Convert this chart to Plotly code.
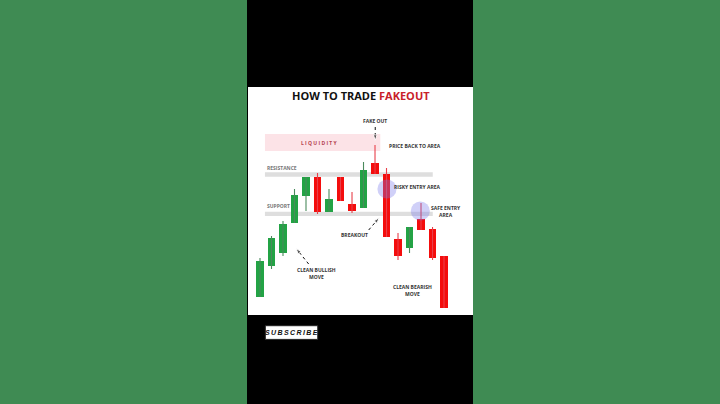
import plotly.graph_objects as go

# ---- data (price units) ----
idx = list(range(17))
opens  = [18, 49, 62, 92, 119, 138, 103, 138, 111, 107, 152, 141, 76, 67, 96, 86, 59]
closes = [54, 77, 91, 120, 138, 103, 116, 114, 104, 145, 141, 78, 59, 88, 85, 57, 7]
highs  = [57, 79, 94, 126, 138, 142, 126, 138, 123, 153, 170, 147, 82, 88, 112, 88, 59]
lows   = [18, 46, 59, 92, 104, 101, 103, 114, 102, 107, 141, 78, 55, 62, 85, 55, 7]

resistance_band = (138.3, 142.7)
support_band = (99.0, 103.3)
liquidity_band = (164.0, 181.0)

GREEN_BG = "#3f8b53"
UP = "#23a345"
DOWN = "#f40d0d"

fig = go.Figure()

# wicks
for up in (True, False):
    xs, ys = [], []
    for i, o, c, h, l in zip(idx, opens, closes, highs, lows):
        if (c >= o) == up:
            xs += [i, i, None]
            ys += [l, h, None]
    fig.add_trace(go.Scatter(x=xs, y=ys, mode="lines",
                             line=dict(color=("#4a8a5c" if up else "#e8404a"), width=1.1),
                             hoverinfo="skip", showlegend=False))

# bodies
fig.add_trace(go.Bar(
    x=idx,
    y=[abs(c - o) for o, c in zip(opens, closes)],
    base=[min(o, c) for o, c in zip(opens, closes)],
    width=0.66,
    marker=dict(color=[UP if c >= o else DOWN for o, c in zip(opens, closes)], line=dict(width=0)),
    hoverinfo="skip", showlegend=False))

# dotted arrows
def dotted_arrow(x0, y0, x1, y1):
    fig.add_trace(go.Scatter(x=[x0, x1], y=[y0, y1], mode="lines+markers",
                             line=dict(color="#111", width=1, dash="dot"),
                             marker=dict(symbol="arrow", size=[0, 6], angleref="previous", color="#111"),
                             hoverinfo="skip", showlegend=False))

dotted_arrow(10.02, 188, 10.02, 174.5)   # fake out
dotted_arrow(9.45, 85, 10.37, 97.3)      # breakout
dotted_arrow(4.23, 51, 3.13, 66.7)       # clean bullish

shapes = []
shapes.append(dict(type="rect", xref="paper", yref="paper", x0=-1.2, x1=-0.0044, y0=-0.5, y1=1.5,
                   fillcolor=GREEN_BG, line=dict(width=0), layer="below"))
shapes.append(dict(type="rect", xref="paper", yref="paper", x0=1.0, x1=2.2, y0=-0.5, y1=1.5,
                   fillcolor=GREEN_BG, line=dict(width=0), layer="below"))
shapes.append(dict(type="rect", xref="x", yref="y", x0=0.43, x1=15.02, y0=resistance_band[0], y1=resistance_band[1],
                   fillcolor="#dedede", line=dict(width=0), layer="below"))
shapes.append(dict(type="rect", xref="x", yref="y", x0=0.43, x1=15.02, y0=support_band[0], y1=support_band[1],
                   fillcolor="#dedede", line=dict(width=0), layer="below"))
shapes.append(dict(type="rect", xref="x", yref="y", x0=0.43, x1=10.46, y0=liquidity_band[0], y1=liquidity_band[1],
                   fillcolor="#fce3e7", line=dict(width=0), layer="below"))
for cx, cy in [(11.04, 126.0), (13.94, 104.0)]:
    shapes.append(dict(type="circle", xref="x", yref="y", x0=cx - 0.83, x1=cx + 0.83, y0=cy - 9.5, y1=cy + 9.5,
                       fillcolor="rgba(120,120,235,0.35)", line=dict(width=0), layer="above"))
shapes.append(dict(type="rect", xref="paper", yref="paper", x0=0.077, x1=0.31, y0=-0.107, y1=-0.047,
                   fillcolor="white", line=dict(color="#222", width=1)))

small = dict(family="Open Sans", size=5, color="#333", weight="bold")

def lab(text, x, y, xanchor="center", font=small):
    return dict(text=text, x=x, y=y, xref="x", yref="y", showarrow=False, xanchor=xanchor,
                yanchor="middle", font=font, align="center")

annotations = [
    dict(text="HOW TO TRADE <span style='color:#c8202a'>FAKEOUT</span>", x=0.5, y=0.962, xref="paper", yref="paper",
         xanchor="center", yanchor="middle", showarrow=False,
         font=dict(family="Open Sans", size=11, color="#111", weight="bold")),
    lab("L I Q U I D I T Y", 5.19, 171.7, font=dict(family="Open Sans", size=5, color="#b5424f", weight="bold")),
    lab("FAKE OUT", 10.03, 194.3),
    lab("PRICE BACK TO AREA", 13.45, 169.3),
    lab("RESISTANCE", 0.43, 146.7, xanchor="left", font=dict(family="Open Sans", size=5, color="#777", weight="bold")),
    lab("RISKY ENTRY AREA", 13.65, 127.7),
    lab("SUPPORT", 0.43, 109.0, xanchor="left", font=dict(family="Open Sans", size=5, color="#777", weight="bold")),
    lab("SAFE ENTRY<br>AREA", 16.2, 103.2),
    lab("BREAKOUT", 8.2, 80.0),
    lab("CLEAN BULLISH<br>MOVE", 4.87, 41.7),
    lab("CLEAN BEARISH<br>MOVE", 13.28, 24.3),
    dict(text="\u2009".join("SUBSCRIBE"), x=0.1935, y=-0.077, xref="paper", yref="paper", showarrow=False,
         xanchor="center", yanchor="middle",
         font=dict(family="Liberation Sans Narrow, Liberation Sans", size=7, color="#111", weight="bold", style="italic")),
]

fig.update_layout(
    width=720, height=404,
    margin=dict(l=248, r=247, t=87, b=89),
    paper_bgcolor="#000000",
    plot_bgcolor="#ffffff",
    xaxis=dict(range=[-1.043, 18.52], visible=False, fixedrange=True),
    yaxis=dict(range=[0, 228], visible=False, fixedrange=True),
    shapes=shapes,
    annotations=annotations,
    showlegend=False,
    bargap=0,
)

fig.write_html("out.html", config={"displayModeBar": False},
               post_script="document.body.style.margin='0';document.body.style.overflow='hidden';")
